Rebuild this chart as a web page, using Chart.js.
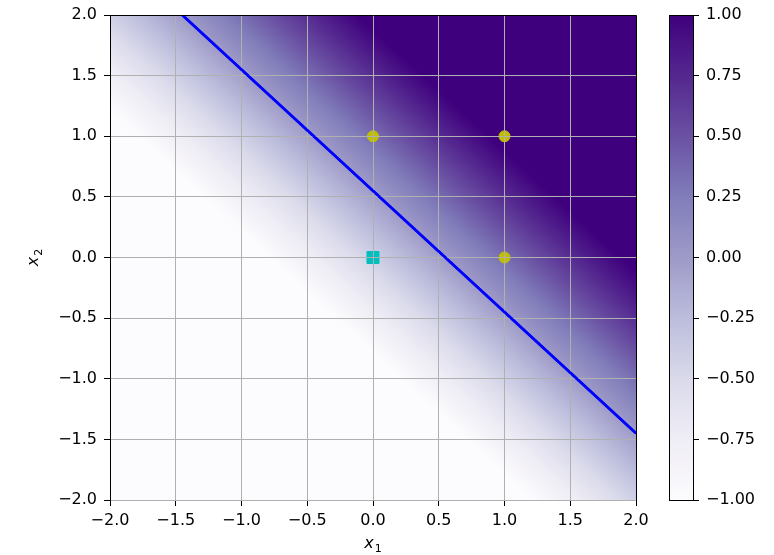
<!DOCTYPE html>
<html>
<head>
<meta charset="utf-8">
<script src="https://cdn.jsdelivr.net/npm/chart.js@4.4.0/dist/chart.umd.min.js"></script>
<style>
  html, body { margin: 0; padding: 0; background: #fff; }
  #wrap { position: relative; width: 774px; height: 555px; }
  #plot { position: absolute; left: 0; top: 0; }
  #cbar { position: absolute; left: 630px; top: 0; }
</style>
</head>
<body>
<div id="wrap">
  <canvas id="plot" width="774" height="555"></canvas>
  <canvas id="cbar" width="144" height="555"></canvas>
</div>
<script>
// OR gate: inputs and targets
const inputsX1 = [0, 0, 1, 1];
const inputsX2 = [0, 1, 0, 1];
const targets = [0, 1, 1, 1];

// perceptron weights, raw output = w1*x1 + w2*x2 + b (shown clipped to [-1, 1])
const weights = [0.75, 0.75];
const bias = -0.41;

// decision boundary (w.x + b = 0) where it enters and leaves the view
const boundaryX1 = [-1.45, 2.0];
const boundaryX2 = [2.0, -1.45];

const axisTicks = [-2.0, -1.5, -1.0, -0.5, 0.0, 0.5, 1.0, 1.5, 2.0];
const colorbarTicks = [-1.0, -0.75, -0.5, -0.25, 0.0, 0.25, 0.5, 0.75, 1.0];

// matplotlib "Purples"
const purples = ['#fcfbfd', '#efedf5', '#dadaeb', '#bcbddc', '#9e9ac8', '#807dba', '#6a51a3', '#54278f', '#3f007d']
    .map(h => [parseInt(h.slice(1, 3), 16), parseInt(h.slice(3, 5), 16), parseInt(h.slice(5, 7), 16)]);

function purplesAt(t) {
    t = Math.min(1, Math.max(0, t)) * (purples.length - 1);
    const i = Math.min(purples.length - 2, Math.floor(t));
    const f = t - i;
    const a = purples[i], b = purples[i + 1];
    return [a[0] + (b[0] - a[0]) * f, a[1] + (b[1] - a[1]) * f, a[2] + (b[2] - a[2]) * f];
}

function output(x1, x2) {
    return Math.max(-1, Math.min(1, weights[0] * x1 + weights[1] * x2 + bias));
}

const fmt1 = v => (v < 0 ? '\u2212' : '') + Math.abs(v).toFixed(1);
const fmt2 = v => (v < 0 ? '\u2212' : '') + Math.abs(v).toFixed(2);

const FONT = { family: 'DejaVu Sans', size: 16, lineHeight: 1.0 };

const heatmap = {
    id: 'heatmap',
    beforeDatasetsDraw(chart) {
        const { ctx, chartArea: a, scales: { x, y } } = chart;
        const left = Math.round(a.left), top = Math.round(a.top);
        const w = Math.round(a.right) - left, h = Math.round(a.bottom) - top;
        const img = ctx.createImageData(w, h);
        for (let py = 0; py < h; py++) {
            const x2 = y.getValueForPixel(top + py + 0.5);
            for (let px = 0; px < w; px++) {
                const x1 = x.getValueForPixel(left + px + 0.5);
                const c = purplesAt((output(x1, x2) + 1) / 2);
                const k = (py * w + px) * 4;
                img.data[k] = c[0];
                img.data[k + 1] = c[1];
                img.data[k + 2] = c[2];
                img.data[k + 3] = 255;
            }
        }
        ctx.putImageData(img, left, top);
    },
    afterDraw(chart) {
        const { ctx, chartArea: a } = chart;
        // boundary line goes on top of the grid
        ctx.save();
        ctx.beginPath();
        ctx.rect(a.left, a.top, a.right - a.left, a.bottom - a.top);
        ctx.clip();
        chart.getDatasetMeta(0).controller.draw();
        ctx.restore();

        // top and right spines
        ctx.save();
        ctx.strokeStyle = '#000';
        ctx.lineWidth = 1;
        ctx.beginPath();
        ctx.moveTo(a.left, a.top + 0.5);
        ctx.lineTo(a.right + 0.5, a.top + 0.5);
        ctx.lineTo(a.right + 0.5, a.bottom);
        ctx.stroke();
        ctx.restore();

        // axis labels x1 / x2
        ctx.save();
        ctx.fillStyle = '#000';
        ctx.textBaseline = 'alphabetic';
        const cx = (a.left + a.right) / 2;
        drawSubLabel(ctx, 'x', '1', cx, 548);
        ctx.translate(38, (a.top + a.bottom) / 2);
        ctx.rotate(-Math.PI / 2);
        drawSubLabel(ctx, 'x', '2', 0, 0);
        ctx.restore();
    }
};

function drawSubLabel(ctx, base, sub, cx, baseline) {
    ctx.font = 'oblique 16px "DejaVu Sans"';
    const bw = ctx.measureText(base).width;
    ctx.font = '11px "DejaVu Sans"';
    const sw = ctx.measureText(sub).width;
    const x0 = cx - (bw + sw + 1) / 2;
    ctx.font = 'oblique 16px "DejaVu Sans"';
    ctx.fillText(base, x0, baseline);
    ctx.font = '11px "DejaVu Sans"';
    ctx.fillText(sub, x0 + bw + 1, baseline + 4);
}

function axisScale(extra) {
    return Object.assign({
        type: 'linear',
        min: -2,
        max: 2,
        afterBuildTicks: s => { s.ticks = axisTicks.map(v => ({ value: v })); },
        ticks: { font: FONT, color: '#000', padding: 7, callback: v => fmt1(v) },
        grid: { color: '#b0b0b0', lineWidth: 1, z: 1, tickColor: '#000', tickLength: 6 },
        border: { color: '#000', width: 1, z: 1 }
    }, extra);
}

const positives = inputsX1.map((v, i) => ({ x: v, y: inputsX2[i] })).filter((p, i) => targets[i] === 1);
const negatives = inputsX1.map((v, i) => ({ x: v, y: inputsX2[i] })).filter((p, i) => targets[i] === 0);

new Chart(document.getElementById('plot'), {
    type: 'scatter',
    data: {
        datasets: [
            {
                data: boundaryX1.map((v, i) => ({ x: v, y: boundaryX2[i] })),
                showLine: true,
                borderColor: '#0000ff',
                borderWidth: 2.5,
                pointRadius: 0,
                fill: false
            },
            {
                data: positives,
                pointStyle: 'circle',
                pointRadius: 5.5,
                pointBorderWidth: 1,
                backgroundColor: '#bfbf00',
                borderColor: '#bfbf00'
            },
            {
                data: negatives,
                pointStyle: 'rect',
                pointRadius: 8.5,
                pointBorderWidth: 1,
                backgroundColor: '#00bfbf',
                borderColor: '#00bfbf'
            }
        ]
    },
    options: {
        responsive: false,
        animation: false,
        layout: { padding: { left: 0, top: 14, right: 138, bottom: 0 } },
        plugins: { legend: { display: false }, tooltip: { enabled: false } },
        scales: {
            x: axisScale({ position: 'bottom', afterFit: s => { s.height = 55; } }),
            y: axisScale({ position: 'left', afterFit: s => { s.width = 110; } })
        }
    },
    plugins: [heatmap]
});

const colorbar = {
    id: 'colorbar',
    beforeDatasetsDraw(chart) {
        const { ctx, chartArea: a, scales: { y } } = chart;
        for (let py = Math.round(a.top); py < Math.round(a.bottom); py++) {
            const c = purplesAt((y.getValueForPixel(py + 0.5) + 1) / 2);
            ctx.fillStyle = `rgb(${c[0]},${c[1]},${c[2]})`;
            ctx.fillRect(a.left, py, a.right - a.left, 1);
        }
        ctx.strokeStyle = '#000';
        ctx.lineWidth = 1;
        ctx.strokeRect(Math.round(a.left) + 0.5, Math.round(a.top) + 0.5,
            Math.round(a.right - a.left), Math.round(a.bottom - a.top));
    }
};

new Chart(document.getElementById('cbar'), {
    type: 'scatter',
    data: { datasets: [{ data: [] }] },
    options: {
        responsive: false,
        animation: false,
        layout: { padding: { left: 39, top: 14, right: 0, bottom: 55 } },
        plugins: { legend: { display: false }, tooltip: { enabled: false } },
        scales: {
            x: { display: false, min: 0, max: 1 },
            y: {
                type: 'linear',
                position: 'right',
                min: -1,
                max: 1,
                afterFit: s => { s.width = 81; },
                afterBuildTicks: s => { s.ticks = colorbarTicks.map(v => ({ value: v })); },
                ticks: { font: FONT, color: '#000', padding: 7, callback: v => fmt2(v) },
                grid: { drawOnChartArea: false, tickColor: '#000', tickLength: 6 },
                border: { color: '#000', width: 1 }
            }
        }
    },
    plugins: [colorbar]
});
</script>
</body>
</html>
